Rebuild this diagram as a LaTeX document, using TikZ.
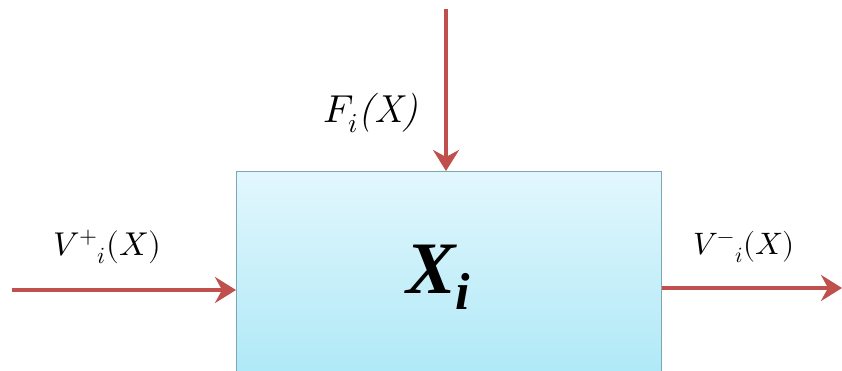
\documentclass[tikz,border=0pt]{standalone}
\usepackage{fontspec}
\usepackage{unicode-math}
\setmathfont{Latin Modern Math}
\usetikzlibrary{arrows.meta}
\newfontfamily\xfont{Liberation Serif}
\definecolor{arrowred}{HTML}{C0504D}
\definecolor{boxtop}{HTML}{E2F7FD}
\definecolor{boxbot}{HTML}{A6E6F6}
\definecolor{boxedge}{HTML}{7FA6B4}
\tikzset{
  flow/.style={draw=arrowred, line width=4pt, -{Stealth[length=21pt,width=26pt,inset=7pt]}},
  lab/.style={font=\fontsize{31}{36}\selectfont},
}
\begin{document}
\begin{tikzpicture}[x=1pt,y=1pt]
\useasboundingbox (0,0) rectangle (842,371);
\clip (0,0) rectangle (842,371);
\fill[white] (0,0) rectangle (842,371);
\node[draw=boxedge, line width=1pt, top color=boxtop, bottom color=boxbot,
      minimum width=425pt, minimum height=240pt, inner sep=0pt, anchor=north west]
      (box) at (236,200) {};
\node[inner sep=0pt] (xi) at (438,94) {\xfont\bfseries\itshape\fontsize{74}{80}\selectfont X\raisebox{-16pt}{\fontsize{52}{56}\selectfont i}};
\coordinate (ftop) at (446,362);
\coordinate (lin) at (12,81);
\coordinate (rout) at (842,83);
\draw[flow] (ftop) -- (ftop |- box.north);
\draw[flow] (lin) -- (lin -| box.west);
\draw[flow] (box.east |- rout) -- (rout);
\node[lab, font=\fontsize{39}{44}\selectfont] (flab) at (371,258) {$F_i$\textit{(X)}};
\node[lab, font=\fontsize{33}{38}\selectfont] (vplab) at (107,124) {$V^{+}{}_{i}(X)$};
\node[lab] (vmlab) at (744,124) {$V^{-}{}_{i}(X)$};
\end{tikzpicture}
\end{document}
